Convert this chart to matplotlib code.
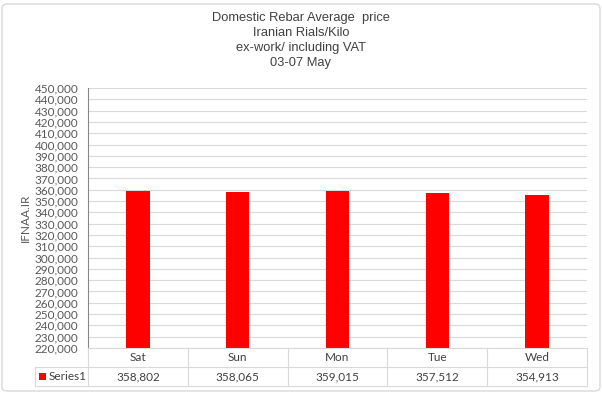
import matplotlib
matplotlib.use("Agg")
import matplotlib.pyplot as plt
from matplotlib.patches import FancyBboxPatch, Rectangle
from matplotlib.lines import Line2D
import numpy as np

categories = ["Sat", "Sun", "Mon", "Tue", "Wed"]
values = [358802, 358065, 359015, 357512, 354913]
series_name = "Series1"
title_lines = ["Domestic Rebar Average  price", "Iranian Rials/Kilo", "ex-work/ including VAT", "03-07 May"]
y_label = "IFNAA.IR"
y_min, y_max, y_step = 220000, 450000, 10000

W, H = 602, 393
fig = plt.figure(figsize=(W / 100, H / 100), dpi=100)

def fx(x):
    return x / W

def fy(y):
    return 1 - y / H

# outer border
fig.add_artist(FancyBboxPatch((fx(2), fy(391)), fx(598), 387 / H,
                              boxstyle="round,pad=0,rounding_size=0.01",
                              transform=fig.transFigure, fill=False,
                              edgecolor="#d9d9d9", linewidth=1.0))

L, R, T, B = 88, 587, 88, 348
ax = fig.add_axes([fx(L), fy(B), fx(R - L), (B - T) / H])
x = np.arange(len(categories))
ax.bar(x, values, width=0.235, color="#ff0000", zorder=3)
ax.set_xlim(-0.5, len(categories) - 0.5)
ax.set_ylim(y_min, y_max)
ticks = np.arange(y_min, y_max + 1, y_step)
ax.set_yticks(ticks)
ax.set_yticklabels([f"{t:,.0f}" for t in ticks], fontsize=8.5, color="#595959", family="Lato")
ax.tick_params(axis="y", length=0, pad=7)
ax.set_xticks([])
ax.grid(axis="y", color="#d9d9d9", linewidth=0.8, zorder=0)
for s in ["top", "right", "bottom"]:
    ax.spines[s].set_visible(False)
ax.spines["left"].set_color("#868686")
ax.spines["left"].set_linewidth(0.8)

fig.text(fx(25), fy(218), y_label, rotation=90, ha="center", va="center",
         fontsize=8.5, color="#595959", family="Lato")

# title
ys = [18, 33, 48, 63]
for line, yy in zip(title_lines, ys):
    fig.text(fx(301), fy(yy), line, ha="center", va="center", fontsize=9.3,
             color="#404040", family="Liberation Sans")

# data table
gc = "#d9d9d9"
row1_top, row_mid, row_bot = 348, 367, 386
tbl_left = 35
colw = (R - L) / len(categories)
def hline(x0, x1, y):
    fig.add_artist(Line2D([fx(x0), fx(x1)], [fy(y), fy(y)], transform=fig.transFigure, color=gc, lw=0.8))
def vline(x, y0, y1):
    fig.add_artist(Line2D([fx(x), fx(x)], [fy(y0), fy(y1)], transform=fig.transFigure, color=gc, lw=0.8))

hline(L, R, row1_top)
hline(tbl_left, R, row_mid)
hline(tbl_left, R, row_bot)
vline(tbl_left, row_mid, row_bot)
for i in range(len(categories) + 1):
    vline(L + i * colw, row1_top, row_bot)
for i, (c, v) in enumerate(zip(categories, values)):
    cx = L + (i + 0.5) * colw
    fig.text(fx(cx), fy((row1_top + row_mid) / 2), c, ha="center", va="center",
             fontsize=8.5, color="#404040", family="Lato")
    fig.text(fx(cx), fy((row_mid + row_bot) / 2), f"{v:,}", ha="center", va="center",
             fontsize=8.5, color="#404040", family="Lato")
fig.add_artist(Rectangle((fx(39), fy(380)), fx(7), 7 / H, transform=fig.transFigure,
                         facecolor="#ff0000", edgecolor="none"))
fig.text(fx(49), fy((row_mid + row_bot) / 2), series_name, ha="left", va="center",
         fontsize=8.5, color="#404040", family="Lato")

fig.savefig("out.png", dpi=100)
